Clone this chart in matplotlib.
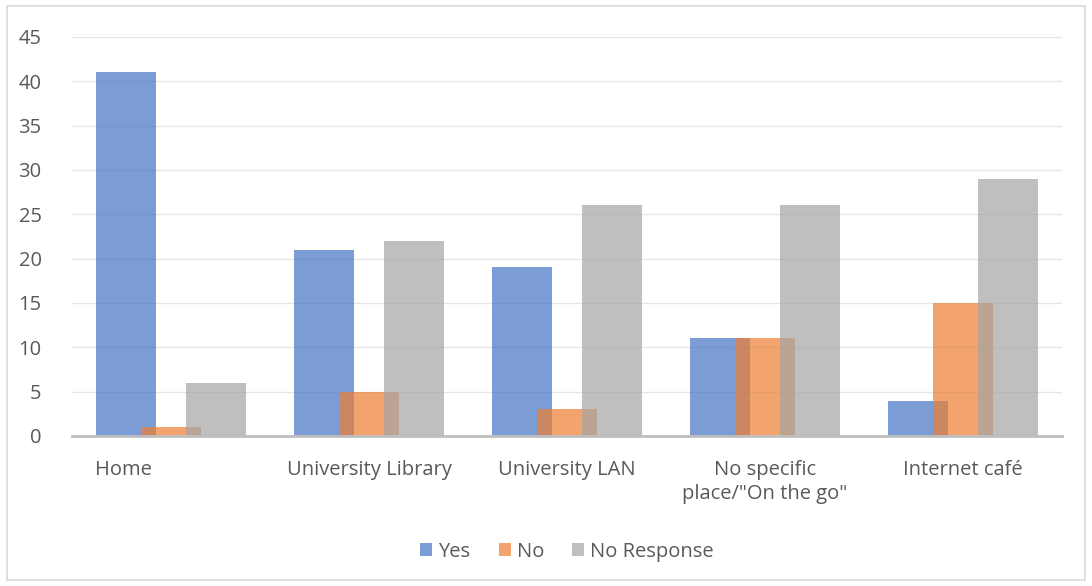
import numpy as np
import matplotlib.pyplot as plt
import matplotlib.transforms as mtransforms
from matplotlib.patches import Rectangle

# Data
places = ['Home', 'University Library', 'University LAN',
          'No specific\nplace/"On the go"', 'Internet café']
yes = [41, 21, 19, 11, 4]
no = [1, 5, 3, 11, 15]
no_response = [6, 22, 26, 26, 29]

plt.rcParams['font.family'] = ['Open Sans', 'DejaVu Sans']

fig = plt.figure(figsize=(10.92, 5.86), dpi=100)
ax = fig.add_axes([0.066, 0.256, 0.9065, 0.681])

# outer chart border
fig.patches.append(Rectangle((0.006, 0.01), 0.988, 0.98, transform=fig.transFigure,
                             fill=False, edgecolor='#D9D9D9', linewidth=1.2))

x = np.arange(len(places))
w = 0.303
off = 0.227
ax.bar(x - off, yes, w, color='#4472C4', alpha=0.7, label='Yes', zorder=2)
ax.bar(x, no, w, color='#ED7D31', alpha=0.7, label='No', zorder=3)
ax.bar(x + off, no_response, w, color='#A5A5A5', alpha=0.7, label='No Response', zorder=4)

ax.set_xlim(-0.5, len(places) - 0.5)
ax.set_ylim(0, 45)
ax.set_yticks(range(0, 46, 5))
ax.grid(axis='y', color='#E6E6E6', linewidth=1, zorder=0)
for s in ['top', 'right', 'left']:
    ax.spines[s].set_visible(False)
ax.spines['bottom'].set_color('#BFBFBF')
ax.spines['bottom'].set_linewidth(2)
ax.spines['bottom'].set_zorder(5)

ax.set_xticks(x)
ax.set_xticklabels(places, fontsize=14.5, color='#595959', linespacing=1.3)
ax.tick_params(axis='x', length=0, pad=17)
ax.tick_params(axis='y', length=0, pad=22, labelsize=14.5, labelcolor='#595959')

# Home label sits left of its category in the original
lbl = ax.get_xticklabels()[0]
lbl.set_transform(lbl.get_transform() + mtransforms.ScaledTranslation(-0.48, 0, fig.dpi_scale_trans))

leg = ax.legend(loc='upper center', bbox_to_anchor=(0.5, -0.22), ncol=3, frameon=False,
                fontsize=14.5, handlelength=0.6, handleheight=0.6, columnspacing=1.4,
                handletextpad=0.3)
for t in leg.get_texts():
    t.set_color('#595959')

fig.savefig('out.png', dpi=100)
